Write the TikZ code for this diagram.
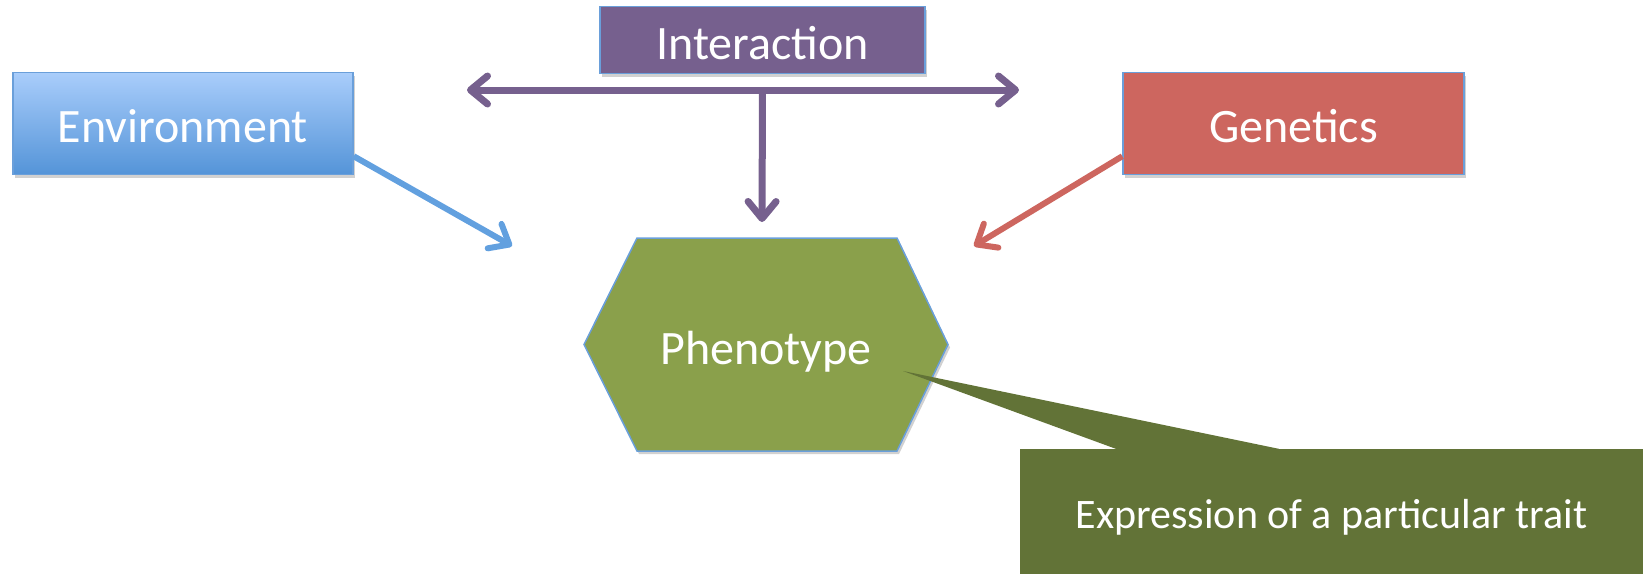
\documentclass[tikz,border=0pt]{standalone}
\usepackage{fontspec}
\setmainfont{Carlito}
\usetikzlibrary{arrows.meta,shadows,calc}
\definecolor{envtop}{HTML}{A9CDFB}
\definecolor{envbot}{HTML}{5494D8}
\definecolor{edgeblue}{HTML}{6A9FDA}
\definecolor{purp}{HTML}{76608E}
\definecolor{genred}{HTML}{CD665F}
\definecolor{hexgreen}{HTML}{8AA04B}
\definecolor{calloutgreen}{HTML}{627337}
\definecolor{arrblue}{HTML}{62A0DF}
\tikzset{
  boxshadow/.style={drop shadow={shadow xshift=2pt,shadow yshift=-3pt,fill=black,opacity=0.18}},
  labelbox/.style={draw=edgeblue,line width=1.5pt,text=white,inner sep=0pt,boxshadow,
    font=\fontsize{48}{58}\selectfont,text height=38pt,text depth=0pt},
  barb/.tip={Straight Barb[length=17pt,width=28pt,round]},
  arrowline/.style={line width=6pt,-barb},
  lbl/.style={text=white,font=\fontsize{48}{58}\selectfont,text height=38pt,text depth=0pt},
}
\begin{document}
\begin{tikzpicture}[x=1pt,y=-1pt]
\useasboundingbox (0,0) rectangle (1651,574);
% boxes
\node[labelbox,minimum width=340pt,minimum height=102pt,top color=envtop,bottom color=envbot] (env) at (183,123.5) {Environment};
\node[labelbox,minimum width=325pt,minimum height=67pt,fill=purp] (inter) at (762.5,40) {Interaction};
\node[labelbox,minimum width=341pt,minimum height=102pt,fill=genred] (gen) at (1293.5,123.5) {Genetics};
% hexagon
\coordinate (h1) at (637,238);
\coordinate (h2) at (897,238);
\coordinate (h3) at (948,344.5);
\coordinate (h4) at (897,451);
\coordinate (h5) at (637,451);
\coordinate (h6) at (584,344.5);
\filldraw[fill=hexgreen,draw=edgeblue,line width=1.5pt,boxshadow] (h1) -- (h2) -- (h3) -- (h4) -- (h5) -- (h6) -- cycle;
\node[lbl] (phen) at (766,345) {Phenotype};
% callout
\node[fill=calloutgreen,minimum width=623pt,minimum height=125pt,inner sep=0pt,text=white,
  font=\fontsize{42}{50}\selectfont,text height=40pt,text depth=6pt] (expr) at (1331.5,511.5) {Expression of a particular trait};
\coordinate (ctip) at (903,371);
\fill[calloutgreen] ($(expr.north west)+(96,0)$) -- (ctip) -- ($(expr.north west)+(259,0)$) -- cycle;
% interaction arrows
\coordinate (hl) at (467,90);
\coordinate (hr) at (1019,90);
\coordinate (vt) at (762,222);
\draw[purp,line width=7pt,barb-barb] (hl) -- (hr);
\draw[purp,arrowline,line width=7pt] (inter.center |- hl) -- (vt);
% environment / genetics arrows
\coordinate (et) at (512,246);
\coordinate (gt) at (974,246);
\draw[arrblue,arrowline] ([yshift=19pt]env.south east) -- (et);
\draw[genred,arrowline] ([yshift=19pt]gen.south west) -- (gt);
\end{tikzpicture}
\end{document}
